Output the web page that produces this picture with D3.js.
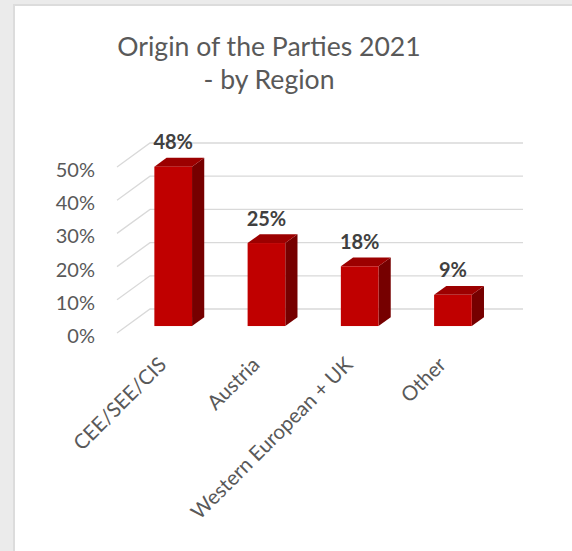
<!DOCTYPE html>
<html>
<head>
<meta charset="utf-8">
<script src="https://cdn.jsdelivr.net/npm/d3@7"></script>
<style>
  html, body { margin: 0; padding: 0; background: #ebebeb; }
  svg { display: block; font-family: Lato, "Open Sans", sans-serif; }
</style>
</head>
<body>
<div id="chart"></div>
<script>
// données
const categories = ['CEE/SEE/CIS', 'Austria', 'Western European + UK', 'Other'];
const shares = [48, 25, 18, 9.4];
const tickValues = [0, 10, 20, 30, 40, 50];
const titleLines = ['Origin of the Parties 2021', '- by Region'];

const W = 572, H = 551;

// géométrie 3D (plan avant -> mur du fond)
const depthX = 33, depthY = -24;
const barDepth0 = 0.29, barDepth1 = 0.66;

const svg = d3.select('#chart').append('svg')
  .attr('width', W).attr('height', H);

// cadre
svg.append('rect').attr('width', W).attr('height', H).attr('fill', '#ebebeb');
svg.append('rect').attr('x', 13).attr('y', 4).attr('width', W).attr('height', H)
  .attr('fill', '#dcdcdc');
svg.append('rect').attr('x', 15).attr('y', 6).attr('width', W).attr('height', H)
  .attr('fill', '#ffffff');

// titre
svg.append('g').selectAll('text').data(titleLines).enter().append('text')
  .attr('x', 269)
  .attr('y', (d, i) => 56 + i * 33)
  .attr('text-anchor', 'middle')
  .attr('fill', '#595959')
  .attr('font-size', 26.6)
  .text(d => d);

// échelles (plan avant)
const x = d3.scaleBand().domain(categories).range([117, 490]).padding(0);
const y = d3.scaleLinear().domain([0, 50]).range([333, 167]);

const proj = (px, v, depth) => [px + depth * depthX, y(v) + depth * depthY];

// grille
const grid = svg.append('g').attr('class', 'grid');
tickValues.forEach(v => {
  const a = proj(117, v, 0), b = proj(117, v, 1), c = proj(490, v, 1);
  grid.append('path')
    .attr('d', `M${a[0]},${a[1]}L${b[0]},${b[1]}L${c[0]},${c[1]}`)
    .attr('fill', 'none')
    .attr('stroke', '#d9d9d9')
    .attr('stroke-width', 1.3);
});

// étiquettes de l'axe Y
const yAxis = d3.axisLeft(y).tickValues(tickValues).tickFormat(d => d + '%').tickSize(0).tickPadding(0);
svg.append('g')
  .attr('transform', 'translate(95,3)')
  .call(yAxis)
  .call(g => g.select('.domain').remove())
  .call(g => g.selectAll('text')
    .attr('fill', '#595959')
    .attr('font-size', 20)
    .attr('font-family', 'Lato, sans-serif'));

// barres 3D
const barW = x.bandwidth() * 0.404;
const bars = svg.append('g').selectAll('g.bar')
  .data(categories.map((c, i) => ({ cat: c, v: shares[i] })))
  .enter().append('g').attr('class', 'bar');

const frontX = d => x(d.cat) + x.bandwidth() / 2 - barW / 2 + barDepth0 * depthX;
const frontY = v => y(v) + barDepth0 * depthY;
const dd = barDepth1 - barDepth0;
const ox = dd * depthX, oy = dd * depthY;

// face latérale
bars.append('path')
  .attr('fill', '#760000')
  .attr('d', d => {
    const x1 = frontX(d) + barW, yt = frontY(d.v), yb = frontY(0);
    return `M${x1},${yt}L${x1 + ox},${yt + oy}L${x1 + ox},${yb + oy}L${x1},${yb}Z`;
  });
// dessus
bars.append('path')
  .attr('fill', '#9c0000')
  .attr('d', d => {
    const x0 = frontX(d), x1 = x0 + barW, yt = frontY(d.v);
    return `M${x0},${yt}L${x1},${yt}L${x1 + ox},${yt + oy}L${x0 + ox},${yt + oy}Z`;
  });
// face avant
bars.append('rect')
  .attr('fill', '#c00000')
  .attr('x', d => frontX(d))
  .attr('y', d => frontY(d.v))
  .attr('width', barW)
  .attr('height', d => frontY(0) - frontY(d.v));

// valeurs
bars.append('text')
  .attr('x', d => frontX(d) + barW / 2)
  .attr('y', d => frontY(d.v) + oy - 8.5)
  .attr('text-anchor', 'middle')
  .attr('font-weight', 'bold')
  .attr('font-size', 20)
  .attr('fill', '#404040')
  .text(d => Math.round(d.v) + '%');

// catégories (axe X, texte incliné)
svg.append('g').selectAll('text.cat')
  .data(categories).enter().append('text')
  .attr('class', 'cat')
  .attr('transform', d => `translate(${x(d) + x.bandwidth() / 2 + 4},366) rotate(-45)`)
  .attr('text-anchor', 'end')
  .attr('font-size', 20.5)
  .attr('fill', '#595959')
  .text(d => d);
</script>
</body>
</html>
